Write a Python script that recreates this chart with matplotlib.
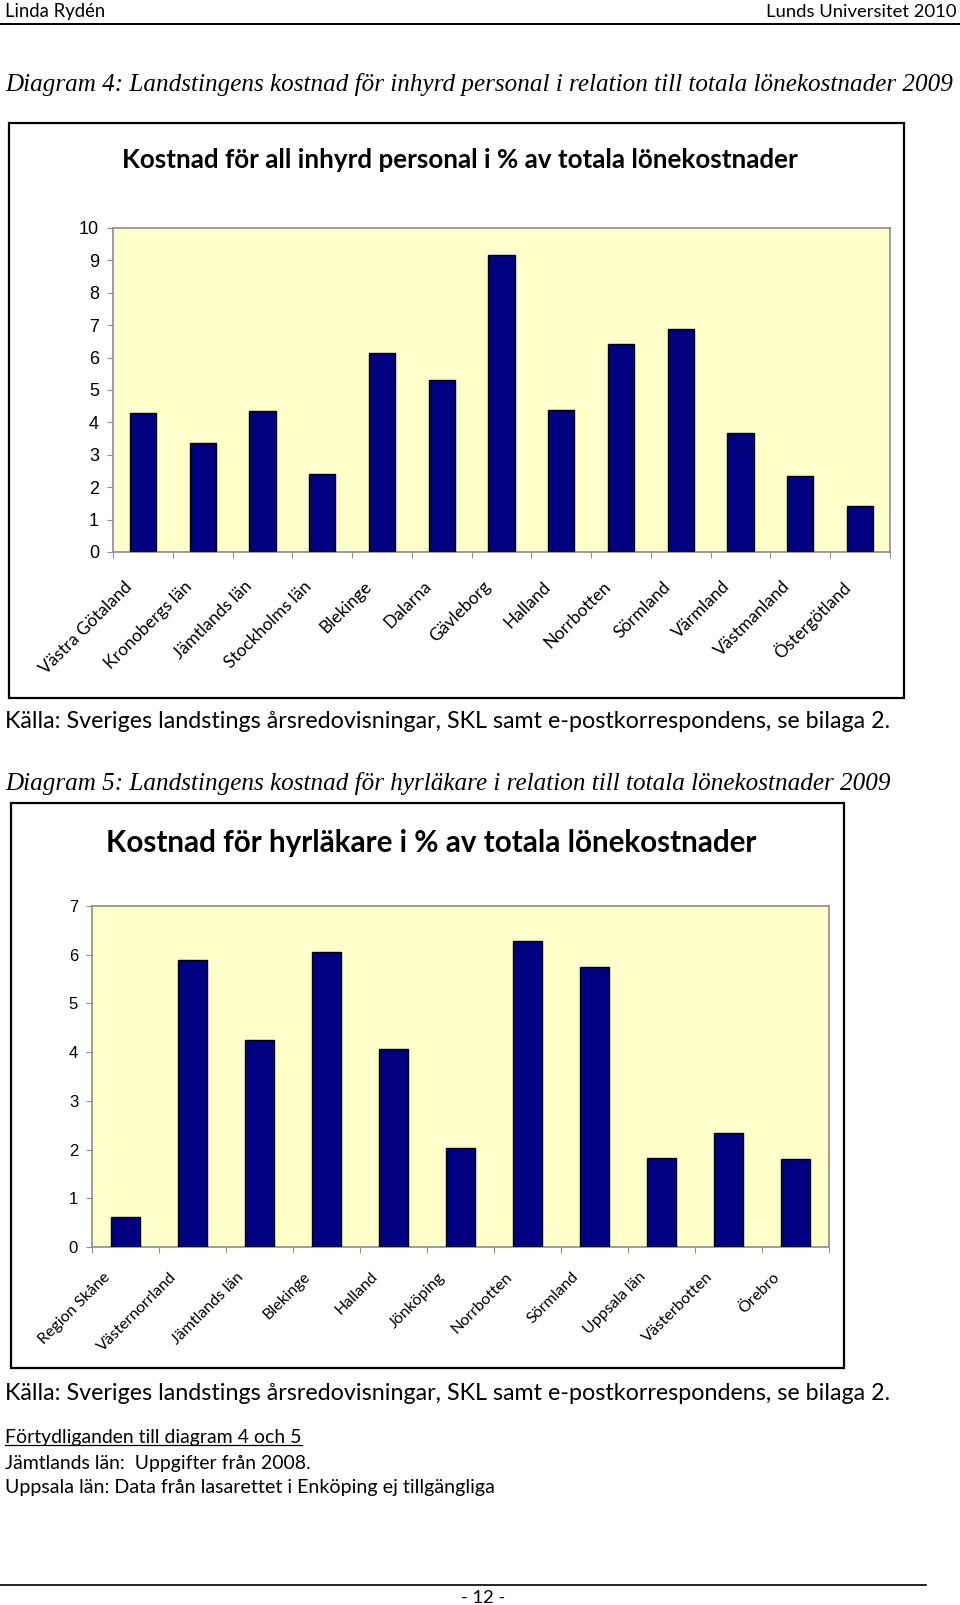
import numpy as np
import matplotlib
matplotlib.use("Agg")
import matplotlib.pyplot as plt
from matplotlib.patches import Rectangle
from matplotlib.lines import Line2D
from matplotlib.transforms import ScaledTranslation

W, H = 960, 1605

# Diagram 4: inhyrd personal, % av totala lönekostnader
lan4 = ["Västra Götaland", "Kronobergs län", "Jämtlands län", "Stockholms län",
        "Blekinge", "Dalarna", "Gävleborg", "Halland", "Norrbotten", "Sörmland",
        "Värmland", "Västmanland", "Östergötland"]
kostnad4 = [4.30, 3.36, 4.35, 2.40, 6.14, 5.30, 9.18, 4.39, 6.42, 6.87, 3.67, 2.36, 1.41]

# Diagram 5: hyrläkare, % av totala lönekostnader
lan5 = ["Region Skåne", "Västernorrland", "Jämtlands län", "Blekinge", "Halland",
        "Jönköping", "Norrbotten", "Sörmland", "Uppsala län", "Västerbotten", "Örebro"]
kostnad5 = [0.62, 5.89, 4.25, 6.06, 4.07, 2.04, 6.28, 5.74, 1.83, 2.33, 1.80]

SANS = "Lato"
SERIF = "Liberation Serif"
ARIAL = "Liberation Sans"

fig = plt.figure(figsize=(W / 100, H / 100), dpi=100)
renderer = fig.canvas.get_renderer()


def fx(x):
    return x / W


def fy(y):
    return 1 - y / H


def text_px(x, y, s, width=None, **kw):
    # place text in pixel coords (from top-left); optionally scale to a target width
    t = fig.text(fx(x), fy(y), s, **kw)
    if width:
        w = t.get_window_extent(renderer).width
        t.set_fontsize(t.get_fontsize() * width / w)
    return t


def box_px(x0, y0, x1, y1):
    fig.patches.append(Rectangle((fx(x0), fy(y1)), (x1 - x0) / W, (y1 - y0) / H,
                                 transform=fig.transFigure, fill=False,
                                 ec="black", lw=1.6))


def hline_px(y, x0, x1, lw=1.2):
    fig.lines.append(Line2D([fx(x0), fx(x1)], [fy(y), fy(y)],
                            transform=fig.transFigure, color="black", lw=lw))


def bar_chart(rect, labels, values, ymax, ysize, xsize, dx, pad):
    left, top, right, bottom = rect
    ax = fig.add_axes([fx(left), fy(bottom), (right - left) / W, (bottom - top) / H])
    x = np.arange(len(labels))
    ax.bar(x, values, width=0.44, color="#000080", edgecolor="black",
           linewidth=1.0, zorder=3)
    ax.set_xlim(-0.5, len(labels) - 0.5)
    ax.set_ylim(0, ymax)
    ax.set_facecolor("#FFFFCC")
    for s in ax.spines.values():
        s.set_color("#8c8c8c")
        s.set_linewidth(1.2)
    ax.set_yticks(range(ymax + 1))
    ax.set_yticklabels([str(v) for v in range(ymax + 1)], family=ARIAL, fontsize=ysize)
    ax.tick_params(axis="y", which="major", color="#8c8c8c", length=4, pad=6)
    ax.set_xticks(np.arange(len(labels) + 1) - 0.5)
    ax.set_xticklabels([])
    ax.tick_params(axis="x", which="major", color="#8c8c8c", length=4)
    ax.set_xticks(x, minor=True)
    ax.set_xticklabels(labels, minor=True, rotation=45, ha="right", va="center",
                       rotation_mode="anchor", fontsize=xsize, family=SANS)
    ax.tick_params(axis="x", which="minor", length=0, pad=pad)
    off = ScaledTranslation(dx / 100, 0, fig.dpi_scale_trans)
    for t in ax.xaxis.get_minorticklabels():
        t.set_transform(t.get_transform() + off)
    return ax


# page header
text_px(5, 12, "Linda Rydén", width=100, family=SANS, va="center", ha="left", fontsize=12)
text_px(956, 12, "Lunds Universitet 2010", width=190, family=SANS, va="center",
        ha="right", fontsize=12)
hline_px(24, 0, 960, lw=1.4)

# Diagram 4
text_px(5, 85, "Diagram 4: Landstingens kostnad för inhyrd personal i relation till totala lönekostnader 2009",
        width=950, family=SERIF, style="italic", va="center", ha="left", fontsize=17)
box_px(9, 123, 904, 698)
text_px(460, 160, "Kostnad för all inhyrd personal i % av totala lönekostnader",
        width=677, family=SANS, weight="bold", va="center", ha="center", fontsize=17)
bar_chart((113, 228, 890, 552), lan4, kostnad4, 10, 13, 12.5, dx=-13, pad=23)
text_px(5, 722, "Källa: Sveriges landstings årsredovisningar, SKL samt e-postkorrespondens, se bilaga 2.",
        width=885, family=SANS, va="center", ha="left", fontsize=14)

# Diagram 5
text_px(5, 783, "Diagram 5: Landstingens kostnad för hyrläkare i relation till totala lönekostnader 2009",
        width=888, family=SERIF, style="italic", va="center", ha="left", fontsize=17)
box_px(11, 803, 844, 1368)
text_px(431, 843, "Kostnad för hyrläkare i % av totala lönekostnader",
        width=652, family=SANS, weight="bold", va="center", ha="center", fontsize=17)
bar_chart((92, 906, 829, 1247), lan5, kostnad5, 7, 12, 11.5, dx=-18, pad=20)
text_px(5, 1393, "Källa: Sveriges landstings årsredovisningar, SKL samt e-postkorrespondens, se bilaga 2.",
        width=888, family=SANS, va="center", ha="left", fontsize=14)

# notes
note = text_px(5, 1437, "Förtydliganden till diagram 4 och 5", width=295,
               family=SANS, va="center", ha="left", fontsize=12)
bb = note.get_window_extent(renderer)
fig.lines.append(Line2D([bb.x0 / W, bb.x1 / W], [(bb.y0 + 1) / H] * 2,
                        transform=fig.transFigure, color="black", lw=0.9))
text_px(5, 1463, "Jämtlands län:  Uppgifter från 2008.", width=303,
        family=SANS, va="center", ha="left", fontsize=12)
text_px(5, 1487, "Uppsala län: Data från lasarettet i Enköping ej tillgängliga", width=487,
        family=SANS, va="center", ha="left", fontsize=12)

# footer
hline_px(1585, 0, 926, lw=1.2)
text_px(483, 1598, "- 12 -", width=44, family=SANS, va="center", ha="center", fontsize=12)

fig.savefig("out.png", dpi=100)
